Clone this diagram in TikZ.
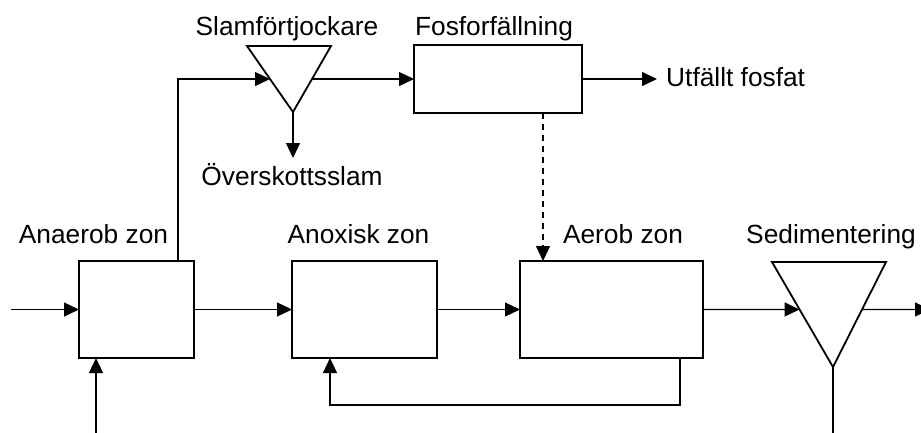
\documentclass[tikz,border=0pt]{standalone}
\usepackage{fontspec}
\setmainfont{Liberation Sans}
\usetikzlibrary{arrows.meta,calc}
\begin{document}
\begin{tikzpicture}[x=1pt,y=-1pt,
    box/.style={draw,line width=1.8pt,inner sep=0pt,outer sep=0pt},
    lbl/.style={font=\fontsize{26.3}{30}\selectfont,inner sep=0pt,anchor=base},
    flow/.style={line width=1.2pt,-{Triangle[length=15pt,width=14pt]}},
    tank/.style={draw,line width=1.8pt,line join=miter}]
  \useasboundingbox (0,0) rectangle (921,432);
  \begin{scope}
    % processzoner
    \node[box,minimum width=115pt,minimum height=97pt] (anaerob) at (136.5,309.5) {};
    \node[box,minimum width=145pt,minimum height=97pt] (anoxisk) at (364.5,309.5) {};
    \node[box,minimum width=183pt,minimum height=97pt] (aerob) at (611.5,309.5) {};
    \node[box,minimum width=168pt,minimum height=68pt] (fosfor) at (498,79) {};
    % triangelformade bassanger
    \coordinate (slamL) at (247,46);
    \coordinate (slamR) at (331,46);
    \coordinate (slamB) at (293,112);
    \draw[tank] (slamL) -- (slamR) -- (slamB) -- cycle;
    \coordinate (sedL) at (772,262);
    \coordinate (sedR) at (886,262);
    \coordinate (sedB) at (833,367);
    \draw[tank] (sedL) -- (sedR) -- (sedB) -- cycle;
    \coordinate (slamIn) at ($(slamL)!0.5!(slamB)$);
    \coordinate (slamOut) at ($(slamR)!0.5!(slamB)$);
    \coordinate (sedIn) at ($(sedL)!0.452!(sedB)$);
    \coordinate (sedOut) at ($(sedR)!0.452!(sedB)$);
    % texter
    \node[lbl] (tAnaerob) at (93.5,243) {Anaerob zon};
    \node[lbl] (tAnoxisk) at (358.5,243) {Anoxisk zon};
    \node[lbl] (tAerob) at (623,243) {Aerob zon};
    \node[lbl] (tSed) at (831,243) {Sedimentering};
    \node[lbl] (tSlam) at (287,35) {Slamförtjockare};
    \node[lbl] (tFosfor) at (494,35) {Fosforfällning};
    \node[lbl] (tOver) at (292,185) {Överskottsslam};
    \node[lbl,anchor=base west] (tUtf) at (666,86) {Utfällt fosfat};
    % fria ändpunkter
    \coordinate (feed) at (11,309.5);
    \coordinate (ret) at (96,434);
    \coordinate (eff) at (930,309.5);
    \coordinate (sludge) at (833,434);
    \coordinate (rcR) at (680,405);
    \coordinate (rcL) at (330,405);
    \coordinate (up) at (178,79);
    \coordinate (waste) at (293,158);
    \coordinate (prod) at (657,79);
    \coordinate (dose) at (543,0);
    % flöden
    \draw[flow] (feed) -- (anaerob.west);
    \draw[flow] (ret) -- (ret |- anaerob.south);
    \draw[flow] (anaerob.east) -- (anoxisk.west);
    \draw[flow] (anoxisk.east) -- (aerob.west);
    \draw[flow] (aerob.east) -- (sedIn);
    \draw[flow] (sedOut) -- (eff);
    \draw[line width=1.2pt] (sedB) -- (sludge);
    \draw[flow] (rcR |- aerob.south) -- (rcR) -- (rcL) -- (rcL |- anoxisk.south);
    \draw[flow] (up |- anaerob.north) -- (up) -- (slamIn);
    \draw[flow] (slamOut) -- (fosfor.west);
    \draw[flow] (slamB) -- (waste);
    \draw[flow] (fosfor.east) -- (prod);
    \draw[flow,dash pattern=on 6pt off 5pt] (dose |- fosfor.south) -- (dose |- aerob.north);
  \end{scope}
\end{tikzpicture}
\end{document}
